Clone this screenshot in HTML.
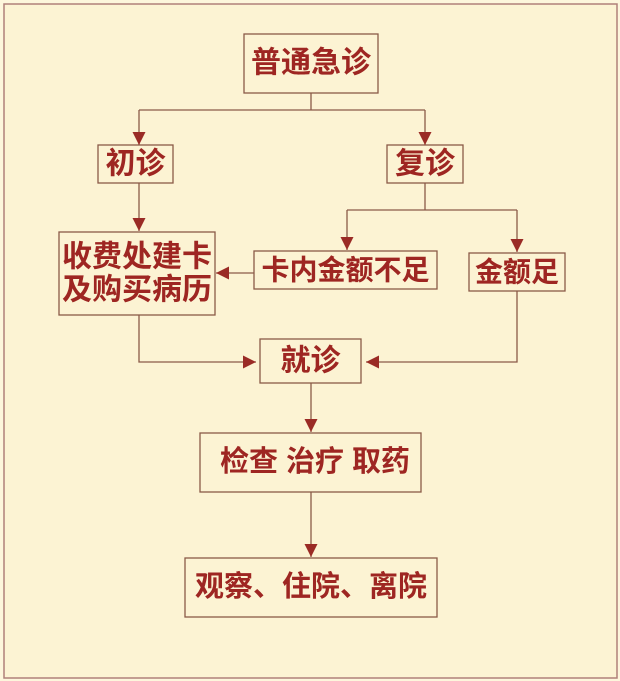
<!DOCTYPE html>
<html><head><meta charset="utf-8"><style>
html,body{margin:0;padding:0;background:#fff;}
svg{display:block}
text{font-family:"Liberation Sans","Noto Sans CJK SC",sans-serif;fill:#9e2622;text-anchor:middle;dominant-baseline:central;font-weight:bold;}
</style></head><body>
<svg width="620" height="681" viewBox="0 0 620 681" xmlns="http://www.w3.org/2000/svg">
<defs><marker id="a" markerWidth="14" markerHeight="14" refX="13" refY="6.5" orient="auto" markerUnits="userSpaceOnUse"><path d="M0,0 L13,6.5 L0,13 z" fill="#9a2b25"/></marker></defs>
<rect x="0" y="0" width="620" height="681" fill="#fdf6dc"/>
<rect x="4" y="4" width="613" height="674" fill="#fcf3d3" stroke="#b0807a" stroke-width="1.5"/>
<g fill="none" stroke="#8a5a48" stroke-width="1.3">
<rect x="244" y="34" width="134" height="59"/>
<rect x="98" y="145" width="75" height="38"/>
<rect x="387" y="145" width="76" height="38"/>
<rect x="59" y="232" width="156" height="83"/>
<rect x="254" y="251" width="183" height="38"/>
<rect x="469" y="253" width="96" height="38"/>
<rect x="260" y="339" width="101" height="44"/>
<rect x="200" y="433" width="221" height="59"/>
<rect x="185" y="558" width="252" height="59"/>
<path d="M311 93 V110 M139 110 H425"/>
<path d="M139 110 V145" marker-end="url(#a)"/>
<path d="M425 110 V145" marker-end="url(#a)"/>
<path d="M139 183 V231" marker-end="url(#a)"/>
<path d="M425 183 V210 M347 210 H517"/>
<path d="M347 210 V250" marker-end="url(#a)"/>
<path d="M517 210 V252" marker-end="url(#a)"/>
<path d="M254 273 H216" marker-end="url(#a)"/>
<path d="M139 315 V362 H256" marker-end="url(#a)"/>
<path d="M517 291 V362 H366" marker-end="url(#a)"/>
<path d="M311 383 V432" marker-end="url(#a)"/>
<path d="M311 492 V557" marker-end="url(#a)"/>
</g>
<text x="311" y="63" font-size="30">普通急诊</text>
<text x="135.5" y="164" font-size="30">初诊</text>
<text x="425" y="164" font-size="30">复诊</text>
<text x="137" y="257" font-size="30">收费处建卡</text>
<text x="137" y="290" font-size="30">及购买病历</text>
<text x="345.5" y="270" font-size="28">卡内金额不足</text>
<text x="517" y="272" font-size="28">金额足</text>
<text x="310.5" y="361" font-size="30">就诊</text>
<text x="315" y="462" font-size="29">检查 治疗 取药</text>
<text x="311" y="587" font-size="29">观察、住院、离院</text>
</svg>
</body></html>
